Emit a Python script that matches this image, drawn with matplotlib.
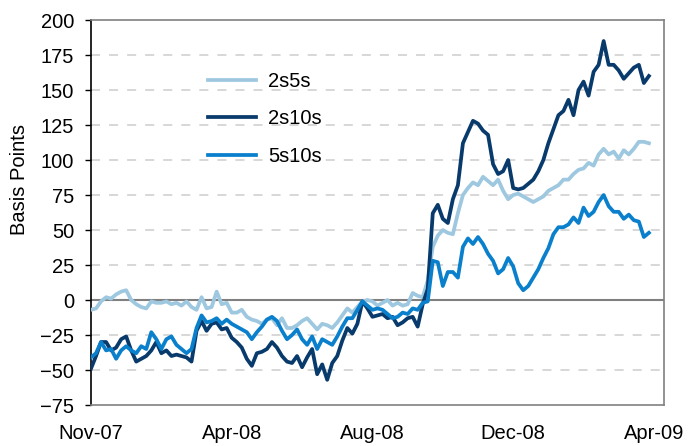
import matplotlib
matplotlib.use("Agg")
import matplotlib.pyplot as plt
import numpy as np

# roughly every 3rd trading day, Nov-07 .. Apr-09
s2s5s = [-7, -6, -1, 2, 1, 4, 6, 7, 0, -3, -5, -6, -1, -2, -2, -1, -3, -2, -4, -1, -5, -7, 2, -6,
         -5, 6, -3, -2, -9, -9, -7, -12, -14, -15, -17, -14, -13, -18, -13, -20, -20, -18, -15, -13, -17, -21, -17,
         -18, -20, -16, -11, -6, -9, -5, -1, 0, -1, -4, -2, 0, -4, -2, -4, -3, 5, 3, 2, 14, 38, 46,
         50, 48, 47, 62, 75, 80, 84, 82, 88, 85, 82, 86, 78, 72, 75, 76, 74, 72, 70, 72, 74, 78,
         80, 82, 86, 86, 90, 93, 94, 98, 96, 104, 108, 104, 106, 101, 107, 104, 108, 113, 113, 112]

s2s10s = [-49, -40, -30, -30, -36, -34, -28, -26, -36, -44, -42, -40, -36, -30, -38, -36, -40, -39, -40, -41, -44, -22, -15, -22,
          -17, -16, -21, -20, -27, -30, -34, -42, -47, -38, -37, -35, -30, -34, -40, -44, -45, -40, -48, -41, -35, -53, -46,
          -57, -45, -40, -29, -20, -24, -17, -1, -6, -12, -11, -10, -13, -12, -18, -16, -13, -12, -19, -3, 8, 62, 68,
          58, 55, 72, 82, 112, 120, 128, 126, 121, 118, 97, 90, 92, 100, 80, 79, 80, 83, 86, 92, 100, 112,
          122, 132, 135, 143, 132, 150, 156, 146, 163, 168, 185, 168, 168, 164, 158, 162, 166, 168, 155, 160]

s5s10s = [-41, -38, -30, -36, -35, -42, -36, -33, -36, -38, -33, -35, -23, -28, -35, -28, -26, -32, -35, -38, -35, -20, -11, -16,
          -15, -13, -17, -14, -17, -19, -21, -23, -28, -23, -19, -14, -12, -15, -22, -28, -25, -21, -28, -32, -26, -35, -28,
          -30, -32, -26, -19, -13, -13, -7, -1, -4, -7, -6, -7, -10, -13, -12, -9, -10, -6, -7, -2, -1, 28, 27,
          10, 20, 20, 16, 38, 44, 40, 45, 40, 33, 28, 19, 22, 30, 24, 12, 7, 10, 16, 22, 30, 37,
          47, 52, 52, 54, 59, 55, 66, 60, 63, 70, 75, 67, 63, 63, 58, 61, 57, 56, 45, 48]

tick_labels = ["Nov-07", "Apr-08", "Aug-08", "Dec-08", "Apr-09"]
tick_pos = [0, 28, 56, 84, 112]

plt.rcParams['font.family'] = ['Liberation Sans', 'DejaVu Sans']

fig = plt.figure(figsize=(6.93, 4.46), dpi=100)
ax = fig.add_axes([0.1313, 0.0919, 0.8268, 0.8632])

x = np.arange(len(s2s5s))
ax.plot(x, s2s5s, color='#9ec8e0', lw=2.7, label='2s5s', zorder=3)
ax.plot(x, s2s10s, color='#083a6c', lw=2.7, label='2s10s', zorder=4)
ax.plot(x, s5s10s, color='#0a80cc', lw=2.7, label='5s10s', zorder=5)

ax.axhline(0, color='#808080', lw=1.5, zorder=2)

ax.set_ylim(-75, 200)
ax.set_xlim(0, 114)
ax.set_yticks(np.arange(-75, 201, 25))
ax.set_xticks(tick_pos)
ax.set_xticklabels(tick_labels)

for v in np.arange(-75, 201, 25):
    if v not in (0, -75, 200):
        ax.axhline(v, color='#d4d4d4', lw=1.3, ls=(0, (5, 5)), zorder=1)

for side in ['top', 'right', 'bottom']:
    ax.spines[side].set_color('#808080')
    ax.spines[side].set_linewidth(1.2)
ax.spines['left'].set_color('black')
ax.spines['left'].set_linewidth(1.2)

ax.tick_params(axis='y', length=4, width=1, pad=8, labelsize=14.5, direction='out')
ax.tick_params(axis='x', length=0, pad=14, labelsize=14.5)

ax.set_ylabel('Basis Points', fontsize=14.5)
ax.yaxis.set_label_coords(-0.108, 0.585)

ax.legend(loc='upper left', bbox_to_anchor=(0.19, 0.885), frameon=False, fontsize=14.5,
          handlelength=2.4, handletextpad=0.6, labelspacing=0.9, borderaxespad=0)

fig.savefig('out.png', dpi=100)
